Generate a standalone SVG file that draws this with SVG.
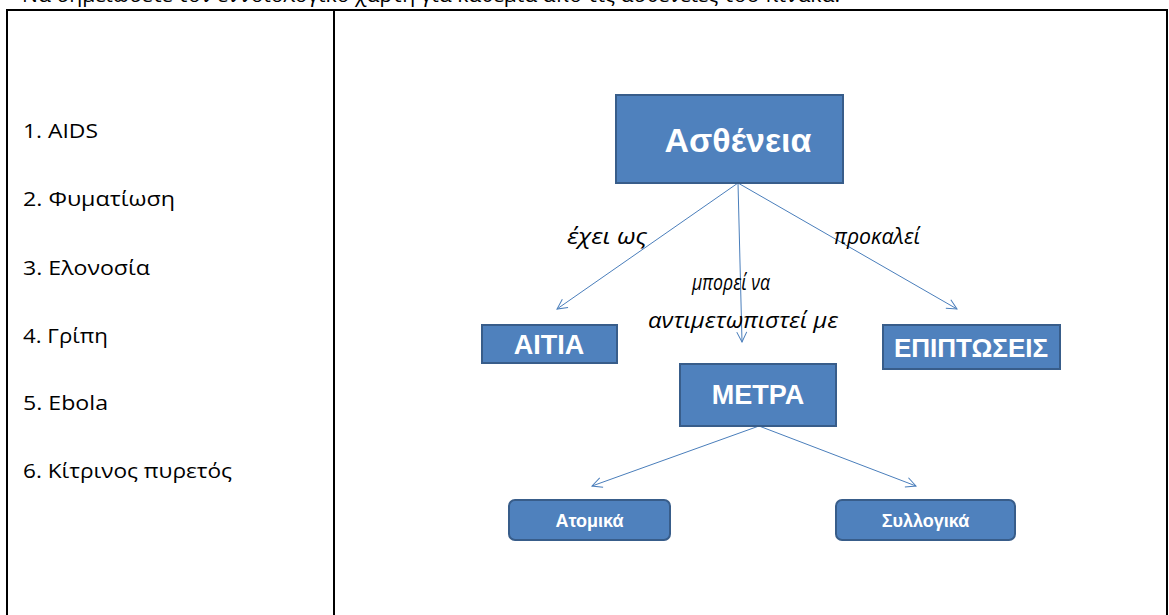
<svg xmlns="http://www.w3.org/2000/svg" width="1169" height="615" viewBox="0 0 1169 615">
<style>
.box{fill:#4f81bd;stroke:#385d8a;stroke-width:2}
.bt{font-family:"Liberation Sans",Arial,sans-serif;font-weight:bold;fill:#fff;text-anchor:middle}
.lbl{font-family:"Open Sans","Liberation Sans",sans-serif;font-style:italic;font-size:21px;fill:#000;text-anchor:middle}
.lst{font-family:"Open Sans","Liberation Sans",sans-serif;font-size:20px;fill:#000}
.con{stroke:#4a7ebb;stroke-width:1;fill:none}
</style>
<defs>
<marker id="arr" viewBox="0 0 12 12" refX="11" refY="6" markerWidth="12" markerHeight="12" markerUnits="userSpaceOnUse" orient="auto">
<path d="M1,1 L11,6 L1,11" fill="none" stroke="#4a7ebb" stroke-width="1"/>
</marker>
</defs>
<rect width="1169" height="615" fill="#fff"/>
<text x="22" y="2" class="lst" textLength="818" lengthAdjust="spacingAndGlyphs">Να σημειώσετε τον εννοιολογικό χάρτη για καθεμία από τις ασθένειες του πίνακα.</text>
<g id="table" fill="none" stroke="#000" stroke-width="2">
<path d="M7,616 V10 H1167 V616"/>
<line x1="334" y1="10" x2="334" y2="616"/>
</g>
<g id="list">
<text x="23" y="138" class="lst" textLength="75" lengthAdjust="spacingAndGlyphs">1. AIDS</text>
<text x="23" y="206" class="lst" textLength="152" lengthAdjust="spacingAndGlyphs">2. Φυματίωση</text>
<text x="23" y="275" class="lst" textLength="127" lengthAdjust="spacingAndGlyphs">3. Ελονοσία</text>
<text x="23" y="343" class="lst" textLength="85" lengthAdjust="spacingAndGlyphs">4. Γρίπη</text>
<text x="23" y="410" class="lst" textLength="85" lengthAdjust="spacingAndGlyphs">5. Ebola</text>
<text x="23" y="478" class="lst" textLength="209" lengthAdjust="spacingAndGlyphs">6. Κίτρινος πυρετός</text>
</g>
<g id="connectors">
<line class="con" x1="738" y1="183" x2="557" y2="309" marker-end="url(#arr)"/>
<line class="con" x1="738" y1="183" x2="742" y2="342" marker-end="url(#arr)"/>
<line class="con" x1="738" y1="183" x2="957" y2="309" marker-end="url(#arr)"/>
<line class="con" x1="759" y1="426" x2="592" y2="486" marker-end="url(#arr)"/>
<line class="con" x1="759" y1="426" x2="916" y2="486" marker-end="url(#arr)"/>
<text x="607" y="244" class="lbl" textLength="80" lengthAdjust="spacingAndGlyphs">έχει ως</text>
<text x="877" y="244" class="lbl" textLength="86" lengthAdjust="spacingAndGlyphs">προκαλεί</text>
<text x="731" y="290" class="lbl" textLength="78" lengthAdjust="spacingAndGlyphs">μπορεί να</text>
<text x="743" y="328" class="lbl" textLength="190" lengthAdjust="spacingAndGlyphs">αντιμετωπιστεί με</text>
</g>
<g id="node-asthenia">
<rect class="box" x="616" y="95" width="227" height="88"/>
<text x="738" y="152" class="bt" font-size="34">Ασθένεια</text>
</g>
<g id="node-aitia">
<rect class="box" x="482" y="325" width="135" height="38"/>
<text x="549" y="354" class="bt" font-size="27">ΑΙΤΙΑ</text>
</g>
<g id="node-epiptoseis">
<rect class="box" x="883" y="325" width="177" height="44"/>
<text x="971" y="357" class="bt" font-size="26">ΕΠΙΠΤΩΣΕΙΣ</text>
</g>
<g id="node-metra">
<rect class="box" x="680" y="364" width="156" height="62"/>
<text x="758" y="404" class="bt" font-size="27">ΜΕΤΡΑ</text>
</g>
<g id="node-atomika">
<rect class="box" x="509" y="500" width="161" height="40" rx="6"/>
<text x="589.5" y="527" class="bt" font-size="18">Ατομικά</text>
</g>
<g id="node-syllogika">
<rect class="box" x="836" y="500" width="179" height="40" rx="6"/>
<text x="925.5" y="527" class="bt" font-size="18">Συλλογικά</text>
</g>
</svg>
